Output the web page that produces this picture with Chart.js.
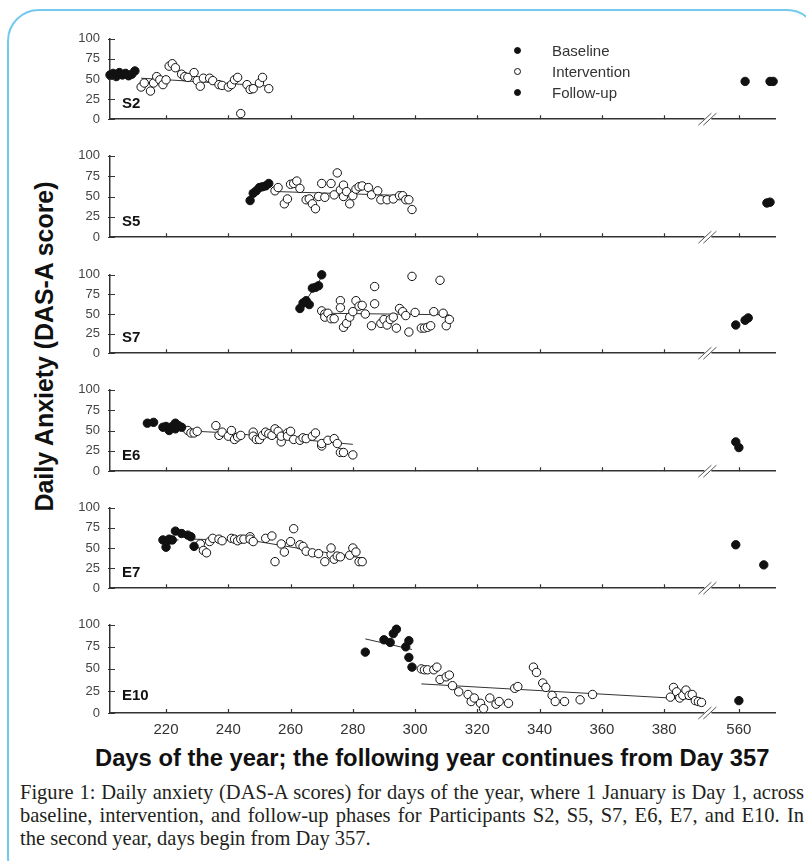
<!DOCTYPE html>
<html>
<head>
<meta charset="utf-8">
<script src="https://cdn.jsdelivr.net/npm/chart.js@4.4.0/dist/chart.umd.min.js"></script>
<style>
  body { margin: 0; background: #fff; }
  #page { position: relative; width: 806px; height: 861px; overflow: hidden; background: #fff;
          font-family: "Liberation Sans", Arial, sans-serif; color: #222; }
  #frame { position: absolute; left: 7px; top: 9px; width: 812px; height: 880px;
           border: 2px solid #74c9ee; border-radius: 32px; box-sizing: border-box; }
  .panel { position: absolute; left: 0; }
  .legrow { position: absolute; left: 510px; height: 20px; font-size: 15px; color: #333; white-space: nowrap; }
  .legrow span.mk { position: absolute; left: 4px; top: 6px; width: 7px; height: 7px; border-radius: 50%;
                    box-sizing: border-box; border: 1px solid #111; }
  .legrow span.tx { position: absolute; left: 42px; top: 0; line-height: 20px; }
  #xtitle { position: absolute; top: 744px; font-weight: bold; font-size: 19px; white-space: nowrap; color: #111; }
  #ytitle { position: absolute; font-weight: bold; font-size: 24px; white-space: nowrap; color: #111;
            transform-origin: center center; }
  .cap { position: absolute; left: 20px; font-family: "Liberation Serif", "Times New Roman", serif;
         font-size: 17.5px; line-height: 22px; color: #231f20; white-space: nowrap; }
</style>
</head>
<body>
<div id="page">
  <div id="frame"></div>
  <div id="xtitle">Days of the year; the following year continues from Day 357</div>
  <div id="ytitle">Daily Anxiety (DAS-A score)</div>
</div>
<script>
// ---- data (days of the year, DAS-A score) ----
const xTickDays = [220, 240, 260, 280, 300, 320, 340, 360, 380, 560];
const yTicks = [0, 25, 50, 75, 100];
const panelNames = ["S2", "S5", "S7", "E6", "E7", "E10"];
const legendLabels = ["Baseline", "Intervention", "Follow-up"];

// S2
const s2BaseDays = [202, 203, 204, 205, 206, 207, 208, 209, 210];
const s2BaseVals = [55, 57, 53, 58, 55, 57, 54, 56, 60];
const s2IntDays = [212, 213, 215, 216, 217, 218, 219, 220, 221, 222, 223, 225, 226, 227, 229, 230, 231, 232, 234, 235, 237, 238, 240, 241, 242, 243, 244, 246, 247, 248, 250, 251, 253];
const s2IntVals = [40, 45, 35, 45, 53, 49, 43, 49, 66, 69, 64, 56, 53, 52, 58, 48, 41, 51, 51, 48, 43, 42, 40, 43, 49, 52, 7, 43, 37, 38, 45, 52, 38];
const s2TrendDays = [212, 254];
const s2TrendVals = [51, 41];
const s2FollowDays = [562, 570, 571];
const s2FollowVals = [47, 47, 47];

// S5
const s5BaseDays = [247, 248, 249, 250, 251, 252, 253];
const s5BaseVals = [45, 54, 57, 61, 62, 63, 66];
const s5IntDays = [255, 256, 258, 259, 260, 261, 262, 263, 265, 266, 267, 268, 269, 270, 271, 273, 274, 275, 276, 277, 277, 278, 279, 280, 281, 282, 283, 285, 286, 288, 289, 291, 293, 295, 296, 297, 298, 299];
const s5IntVals = [57, 61, 41, 47, 65, 66, 69, 60, 46, 47, 41, 35, 50, 66, 49, 66, 52, 79, 58, 50, 64, 56, 41, 51, 59, 62, 63, 61, 52, 57, 46, 46, 47, 51, 51, 46, 46, 34];
const s5TrendDays = [256, 298];
const s5TrendVals = [56, 51];
const s5FollowDays = [569, 570];
const s5FollowVals = [42, 43];

// S7
const s7BaseDays = [263, 264, 265, 266, 267, 268, 269, 270];
const s7BaseVals = [57, 64, 67, 62, 83, 84, 86, 100];
const s7BaseTrendDays = [263, 270];
const s7BaseTrendVals = [56, 97];
const s7IntDays = [270, 271, 271, 272, 273, 274, 276, 276, 277, 278, 279, 280, 281, 282, 283, 284, 286, 287, 287, 289, 290, 291, 292, 293, 294, 295, 296, 297, 298, 299, 300, 302, 303, 304, 305, 306, 308, 309, 310, 311];
const s7IntVals = [54, 50, 46, 51, 44, 44, 67, 58, 33, 38, 46, 53, 67, 60, 61, 50, 35, 85, 63, 38, 43, 36, 43, 46, 32, 57, 53, 48, 27, 98, 52, 32, 32, 33, 35, 53, 93, 51, 35, 43];
const s7TrendDays = [270, 311];
const s7TrendVals = [51, 49];
const s7FollowDays = [559, 562, 563];
const s7FollowVals = [36, 42, 45];

// E6
const e6BaseDays = [214, 216, 219, 220, 221, 222, 223, 223, 224, 225];
const e6BaseVals = [59, 60, 54, 55, 50, 55, 59, 52, 56, 54];
const e6IntDays = [227, 228, 229, 230, 236, 237, 238, 240, 241, 242, 243, 244, 248, 248, 249, 250, 251, 252, 253, 254, 255, 256, 257, 257, 259, 259, 260, 261, 263, 264, 265, 267, 268, 270, 270, 272, 274, 275, 276, 277, 280];
const e6IntVals = [50, 47, 47, 49, 56, 44, 48, 43, 50, 39, 42, 44, 48, 43, 39, 39, 44, 48, 46, 44, 52, 49, 36, 43, 47, 43, 49, 39, 38, 41, 40, 43, 47, 31, 34, 38, 40, 34, 23, 23, 20];
const e6TrendDays = [225, 240, 280];
const e6TrendVals = [50, 47, 33];
const e6FollowDays = [559, 560];
const e6FollowVals = [36, 29];

// E7
const e7BaseDays = [219, 220, 221, 221, 222, 223, 225, 227, 228, 229];
const e7BaseVals = [60, 51, 60, 61, 60, 71, 68, 66, 64, 52];
const e7BaseTrendDays = [218, 224];
const e7BaseTrendVals = [60, 60];
const e7IntDays = [231, 232, 233, 234, 235, 237, 238, 241, 242, 243, 244, 245, 247, 247, 248, 252, 254, 255, 257, 258, 260, 261, 263, 264, 265, 267, 269, 271, 273, 273, 274, 275, 276, 279, 280, 281, 282, 283];
const e7IntVals = [55, 47, 44, 58, 62, 61, 59, 62, 61, 59, 61, 61, 64, 61, 58, 62, 65, 33, 55, 45, 58, 74, 54, 52, 46, 44, 43, 33, 42, 50, 36, 40, 39, 41, 50, 45, 33, 33];
const e7TrendDays = [229, 248, 262, 284];
const e7TrendVals = [61, 59, 50, 37];
const e7FollowDays = [559, 568];
const e7FollowVals = [54, 29];

// E10
const e10BaseDays = [284, 290, 292, 293, 294, 297, 298, 298, 299];
const e10BaseVals = [69, 83, 80, 90, 95, 75, 82, 63, 52];
const e10BaseTrendDays = [284, 299];
const e10BaseTrendVals = [84, 72];
const e10IntDays = [302, 303, 304, 306, 307, 308, 310, 311, 312, 314, 317, 318, 319, 321, 322, 324, 326, 327, 330, 332, 333, 338, 339, 341, 342, 344, 345, 348, 353, 357, 382, 383, 384, 385, 386, 387, 388, 389, 390, 391, 392];
const e10IntVals = [50, 49, 49, 49, 52, 38, 41, 43, 31, 24, 21, 13, 17, 11, 5, 17, 10, 13, 11, 28, 30, 52, 46, 34, 29, 20, 13, 13, 15, 21, 18, 29, 24, 17, 20, 26, 20, 21, 14, 13, 12];
const e10TrendDays = [302, 392];
const e10TrendVals = [33, 15];
const e10FollowDays = [560];
const e10FollowVals = [14];

// ---- axis break: second-year days are pulled left so 560 sits just after the break ----
const gapShift = 156;
const breakAt = 394.2;
function toAxis(d) { return d > 500 ? d - gapShift : d; }
function fromAxis(v) { return v > breakAt ? v + gapShift : v; }

// plot area tops / bottoms in the page
const plotTop = [29, 146, 265, 380, 498, 615];
const plotBottom = [127, 245, 361, 479, 596, 713];
const FONT = '"Liberation Sans", Arial, sans-serif';

function pts(days, vals) { return days.map((d, i) => ({ x: toAxis(d), y: vals[i] })); }
function dots(days, vals, fill) {
  return { data: pts(days, vals), showLine: false, pointRadius: 4.2, pointBackgroundColor: fill,
           pointBorderColor: '#111', pointBorderWidth: 1, clip: false, order: 1 };
}
function trend(days, vals) {
  return { data: pts(days, vals), showLine: true, pointRadius: 0, borderColor: '#333',
           borderWidth: 1, clip: false, order: 2 };
}

const panels = [
  [dots(s2BaseDays, s2BaseVals, '#111'), dots(s2IntDays, s2IntVals, '#fff'), dots(s2FollowDays, s2FollowVals, '#111'),
   trend(s2TrendDays, s2TrendVals)],
  [dots(s5BaseDays, s5BaseVals, '#111'), dots(s5IntDays, s5IntVals, '#fff'), dots(s5FollowDays, s5FollowVals, '#111'),
   trend(s5TrendDays, s5TrendVals)],
  [dots(s7BaseDays, s7BaseVals, '#111'), dots(s7IntDays, s7IntVals, '#fff'), dots(s7FollowDays, s7FollowVals, '#111'),
   trend(s7BaseTrendDays, s7BaseTrendVals), trend(s7TrendDays, s7TrendVals)],
  [dots(e6BaseDays, e6BaseVals, '#111'), dots(e6IntDays, e6IntVals, '#fff'), dots(e6FollowDays, e6FollowVals, '#111'),
   trend(e6TrendDays, e6TrendVals)],
  [dots(e7BaseDays, e7BaseVals, '#111'), dots(e7IntDays, e7IntVals, '#fff'), dots(e7FollowDays, e7FollowVals, '#111'),
   trend(e7BaseTrendDays, e7BaseTrendVals), trend(e7TrendDays, e7TrendVals)],
  [dots(e10BaseDays, e10BaseVals, '#111'), dots(e10IntDays, e10IntVals, '#fff'), dots(e10FollowDays, e10FollowVals, '#111'),
   trend(e10BaseTrendDays, e10BaseTrendVals), trend(e10TrendDays, e10TrendVals)]
];

// tick marks, axis break and panel name
const decor = {
  id: 'decor',
  afterDraw(chart, args, opts) {
    const { ctx, chartArea: a, scales: { x, y } } = chart;
    ctx.save();
    ctx.strokeStyle = '#333';
    ctx.lineWidth = 1.2;
    ctx.beginPath();
    x.ticks.forEach(t => {
      const px = Math.round(x.getPixelForValue(t.value)) + 0.5;
      ctx.moveTo(px, a.bottom); ctx.lineTo(px, a.bottom - 4);
    });
    y.ticks.forEach(t => {
      const py = Math.round(y.getPixelForValue(t.value)) + 0.5;
      ctx.moveTo(a.left - 2, py); ctx.lineTo(a.left + 5, py);
    });
    ctx.stroke();
    // break mark
    const bx = x.getPixelForValue(breakAt), by = a.bottom;
    ctx.fillStyle = '#fff';
    ctx.fillRect(bx - 4, by - 2, 7, 4);
    ctx.strokeStyle = '#555';
    ctx.lineWidth = 1;
    ctx.beginPath();
    ctx.moveTo(bx - 10, by + 6); ctx.lineTo(bx + 3, by - 6);
    ctx.moveTo(bx - 5, by + 6); ctx.lineTo(bx + 8, by - 6);
    ctx.stroke();
    // name
    ctx.fillStyle = '#111';
    ctx.font = 'bold 15px ' + FONT;
    ctx.textBaseline = 'middle';
    ctx.fillText(opts.name, a.left + 12, y.getPixelForValue(19));
    ctx.restore();
  }
};

const page = document.getElementById('page');
panels.forEach((datasets, i) => {
  const last = i === panels.length - 1;
  const xh = last ? 28 : 10;
  const h = 8 + (plotBottom[i] - plotTop[i]) + xh;
  const wrap = document.createElement('div');
  wrap.className = 'panel';
  wrap.style.top = (plotTop[i] - 8) + 'px';
  const cv = document.createElement('canvas');
  cv.width = 806; cv.height = h;
  cv.style.width = '806px'; cv.style.height = h + 'px';
  wrap.appendChild(cv);
  page.appendChild(wrap);

  new Chart(cv, {
    type: 'scatter',
    data: { datasets },
    options: {
      responsive: false, animation: false, events: [],
      layout: { padding: { top: 8, right: 31, left: 0, bottom: 0 } },
      plugins: { legend: { display: false }, tooltip: { enabled: false }, decor: { name: panelNames[i] } },
      scales: {
        x: {
          type: 'linear', min: 202, max: 415.6,
          afterBuildTicks: s => { s.ticks = xTickDays.map(d => ({ value: toAxis(d) })); },
          afterFit: s => { s.height = xh; },
          grid: { display: false, drawTicks: false },
          border: { display: true, color: '#333', width: 1.5 },
          ticks: { display: last, padding: 8, color: '#333', autoSkip: false, maxRotation: 0,
                   font: { family: FONT, size: 15 },
                   callback: v => String(Math.round(fromAxis(v))) }
        },
        y: {
          min: 0, max: 100,
          afterBuildTicks: s => { s.ticks = yTicks.map(v => ({ value: v })); },
          afterFit: s => { s.width = 110; },
          grid: { display: false, drawTicks: false },
          border: { display: true, color: '#333', width: 1.5 },
          ticks: { padding: 10, color: '#444', font: { family: FONT, size: 13 } }
        }
      }
    },
    plugins: [decor]
  });
});

// legend
const legendFill = ['#111', '#fff', '#111'];
const legendTop = [41, 62, 83];
legendLabels.forEach((lab, i) => {
  const row = document.createElement('div');
  row.className = 'legrow';
  row.style.top = legendTop[i] + 'px';
  const mk = document.createElement('span');
  mk.className = 'mk';
  mk.style.background = legendFill[i];
  const tx = document.createElement('span');
  tx.className = 'tx';
  tx.textContent = lab;
  row.appendChild(mk); row.appendChild(tx);
  page.appendChild(row);
});

// caption: size the font so line 1 nearly fills the box, then justify lines 1-2
const captionLines = [
  'Figure 1: Daily anxiety (DAS-A scores) for days of the year, where 1 January is Day 1, across',
  'baseline, intervention, and follow-up phases for Participants S2, S5, S7, E6, E7, and E10. In',
  'the second year, days begin from Day 357.'
];
const capCenter = [792, 815, 838];
const capDivs = captionLines.map(line => {
  const d = document.createElement('div');
  d.className = 'cap';
  d.textContent = line;
  page.appendChild(d);
  return d;
});
const w0 = capDivs[0].getBoundingClientRect().width;
const capSize = 17.5 * 772 / w0;
capDivs.forEach((d, i) => {
  d.style.fontSize = capSize + 'px';
  d.style.top = (capCenter[i] - 11) + 'px';
  if (i < 2) {
    const w = d.getBoundingClientRect().width;
    const gaps = captionLines[i].split(' ').length - 1;
    d.style.wordSpacing = ((784 - w) / gaps) + 'px';
  }
});

// titles
const xt = document.getElementById('xtitle');
const xw = xt.getBoundingClientRect().width;
xt.style.fontSize = (19 * 675 / xw) + 'px';
xt.style.left = '95px';

const yt = document.getElementById('ytitle');
let yr = yt.getBoundingClientRect();
yt.style.fontSize = (24 * 330 / yr.width) + 'px';
yr = yt.getBoundingClientRect();
yt.style.left = (45 - yr.width / 2) + 'px';
yt.style.top = (346 - yr.height / 2) + 'px';
yt.style.transform = 'rotate(-90deg)';
</script>
</body>
</html>
